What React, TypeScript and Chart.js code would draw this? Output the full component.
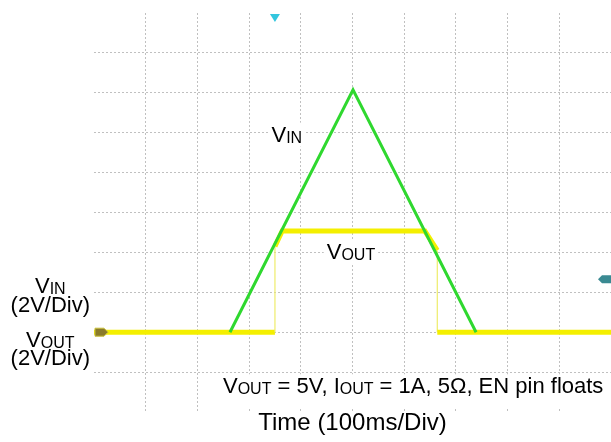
import React, { useEffect, useRef } from "react";
import { Chart, registerables } from "chart.js";

Chart.register(...registerables);

// Time in ms (100 ms/Div), voltage in V (2 V/Div)
const vinTime = [0, 263, 501, 739, 1000];
const vinVolts = [0, 0, 12.15, 0, 0];

const voutTime = [0, 350, 350, 364, 640, 664, 664, 1000];
const voutVolts = [0, 0, 4.3, 5.07, 5.07, 4.1, 0, 0];

const xMin = 0;
const xMax = 1000;
const xStep = 100;
const yMin = -4;
const yMax = 16;
const yStep = 2;

const triggerTime = 350;
const triggerLevel = 2.65;
const groundLevel = 0;

type Run = { t: string; sub?: boolean };
const vinLabel: Run[] = [{ t: "V" }, { t: "IN", sub: true }];
const voutLabel: Run[] = [{ t: "V" }, { t: "OUT", sub: true }];
const divLabel: Run[] = [{ t: "(2V/Div)" }];
const noteLabel: Run[] = [
  { t: "V" },
  { t: "OUT", sub: true },
  { t: " = 5V, I" },
  { t: "OUT", sub: true },
  { t: " = 1A, 5Ω, EN pin floats" },
];
const timeLabel: Run[] = [{ t: "Time (100ms/Div)" }];

const FONT = "'Liberation Sans', Arial, sans-serif";
const GREEN = "#2fd82f";
const YELLOW = "#f4ef00";
const YELLOW_THIN = "#eeec6a";
const GRID = "rgba(140,140,140,0.55)";

function drawRuns(
  ctx: CanvasRenderingContext2D,
  runs: Run[],
  x: number,
  y: number,
  align: "left" | "center",
  mainPx: number,
  subPx: number,
  bg?: { padL: number; padR: number; up: number; down: number; right?: number }
) {
  const widths = runs.map((r) => {
    ctx.font = `${r.sub ? subPx : mainPx}px ${FONT}`;
    return ctx.measureText(r.t).width;
  });
  const total = widths.reduce((a, b) => a + b, 0);
  let sx = align === "center" ? x - total / 2 : x;
  if (bg) {
    ctx.fillStyle = "#ffffff";
    const left = sx - bg.padL;
    const right = bg.right !== undefined ? bg.right : sx + total + bg.padR;
    ctx.fillRect(left, y - bg.up, right - left, bg.up + bg.down);
  }
  ctx.fillStyle = "#000000";
  ctx.textAlign = "left";
  ctx.textBaseline = "alphabetic";
  runs.forEach((r, i) => {
    ctx.font = `${r.sub ? subPx : mainPx}px ${FONT}`;
    ctx.fillText(r.t, sx, y + (r.sub ? 1 : 0));
    sx += widths[i];
  });
}

const scopePlugin = {
  id: "scopeDecor",
  afterDatasetsDraw(chart: any) {
    const ctx: CanvasRenderingContext2D = chart.ctx;
    const area = chart.chartArea;
    const xs = chart.scales.x;
    const ys = chart.scales.y;
    ctx.save();

    // trigger position marker (top)
    const tx = xs.getPixelForValue(triggerTime);
    ctx.fillStyle = "#33c6de";
    ctx.beginPath();
    ctx.moveTo(tx - 5, area.top + 1);
    ctx.lineTo(tx + 5, area.top + 1);
    ctx.lineTo(tx, area.top + 9);
    ctx.closePath();
    ctx.fill();

    // channel ground marker (left)
    const gy = ys.getPixelForValue(groundLevel);
    const gx = area.left;
    ctx.fillStyle = "#8a7b2a";
    ctx.strokeStyle = "#c8bf3a";
    ctx.lineWidth = 1;
    ctx.beginPath();
    ctx.moveTo(gx + 1, gy - 4);
    ctx.lineTo(gx + 10, gy - 4);
    ctx.lineTo(gx + 14, gy);
    ctx.lineTo(gx + 10, gy + 4);
    ctx.lineTo(gx + 1, gy + 4);
    ctx.closePath();
    ctx.fill();
    ctx.stroke();

    // trigger level marker (right)
    const ty = ys.getPixelForValue(triggerLevel);
    const rx = area.right;
    ctx.fillStyle = "#3a8a92";
    ctx.beginPath();
    ctx.moveTo(rx, ty - 4);
    ctx.lineTo(rx - 9, ty - 4);
    ctx.lineTo(rx - 13, ty);
    ctx.lineTo(rx - 9, ty + 4);
    ctx.lineTo(rx, ty + 4);
    ctx.closePath();
    ctx.fill();

    // in-chart labels
    drawRuns(ctx, vinLabel, xs.getPixelForValue(373), ys.getPixelForValue(9.55), "center", 22, 16, {
      padL: 3, padR: 3, up: 19, down: 5,
    });
    drawRuns(ctx, voutLabel, xs.getPixelForValue(497), ys.getPixelForValue(3.67), "center", 22, 16, {
      padL: 3, padR: 3, up: 19, down: 5,
    });

    // left channel labels
    const lx = area.left * 0.535;
    drawRuns(ctx, vinLabel, lx, ys.getPixelForValue(1.97), "center", 22, 16);
    drawRuns(ctx, divLabel, lx, ys.getPixelForValue(1.0), "center", 22, 16);
    drawRuns(ctx, voutLabel, lx, ys.getPixelForValue(-0.76), "center", 22, 16);
    drawRuns(ctx, divLabel, lx, ys.getPixelForValue(-1.66), "center", 22, 16);

    // test-condition note
    drawRuns(ctx, noteLabel, xs.getPixelForValue(249.5), ys.getPixelForValue(-3.06), "left", 22, 16, {
      padL: 4, padR: 0, up: 19, down: 14, right: area.right,
    });

    // time axis title
    drawRuns(ctx, timeLabel, (area.left + area.right) / 2, area.bottom + 18, "center", 24, 24);

    ctx.restore();
  },
};

export default function App() {
  const ref = useRef<HTMLCanvasElement | null>(null);

  useEffect(() => {
    if (!ref.current) return;
    const edgeX = (c: any) =>
      c.tick && (c.tick.value === xMin || c.tick.value === xMax) ? "rgba(0,0,0,0)" : GRID;
    const edgeY = (c: any) =>
      c.tick && (c.tick.value === yMin || c.tick.value === yMax) ? "rgba(0,0,0,0)" : GRID;

    const chart = new Chart(ref.current, {
      type: "line",
      data: {
        datasets: [
          {
            label: "VIN",
            data: vinTime.map((t, i) => ({ x: t, y: vinVolts[i] })),
            borderColor: GREEN,
            borderWidth: 3,
            pointRadius: 0,
            tension: 0,
            fill: false,
            order: 1,
            segment: {
              // flat 0 V stretches sit underneath the thicker VOUT trace on the scope
              borderColor: (c: any) =>
                c.p0.parsed.y === groundLevel && c.p1.parsed.y === groundLevel ? "rgba(0,0,0,0)" : GREEN,
            },
          } as any,
          {
            label: "VOUT",
            data: voutTime.map((t, i) => ({ x: t, y: voutVolts[i] })),
            borderColor: YELLOW,
            borderWidth: 5,
            pointRadius: 0,
            tension: 0,
            fill: false,
            order: 2,
            segment: {
              borderWidth: (c: any) => (c.p0.parsed.x === c.p1.parsed.x ? 1.2 : 5),
              borderColor: (c: any) => (c.p0.parsed.x === c.p1.parsed.x ? YELLOW_THIN : YELLOW),
            },
          } as any,
        ],
      },
      options: {
        animation: false,
        responsive: false,
        layout: { padding: { left: 94, top: 13, right: 0, bottom: 30 } },
        plugins: { legend: { display: false }, tooltip: { enabled: false } },
        scales: {
          x: {
            type: "linear",
            min: xMin,
            max: xMax,
            ticks: { display: false, stepSize: xStep },
            grid: { color: edgeX, lineWidth: 1, drawTicks: false },
            border: { display: false, dash: [2, 2] },
          },
          y: {
            type: "linear",
            min: yMin,
            max: yMax,
            ticks: { display: false, stepSize: yStep },
            grid: { color: edgeY, lineWidth: 1, drawTicks: false },
            border: { display: false, dash: [2, 2] },
          },
        },
      },
      plugins: [scopePlugin],
    });
    return () => chart.destroy();
  }, []);

  return (
    <div style={{ position: "fixed", left: 0, top: 0, width: 611, height: 442, background: "#ffffff" }}>
      <canvas ref={ref} width={611} height={442} style={{ display: "block", width: 611, height: 442 }} />
    </div>
  );
}
